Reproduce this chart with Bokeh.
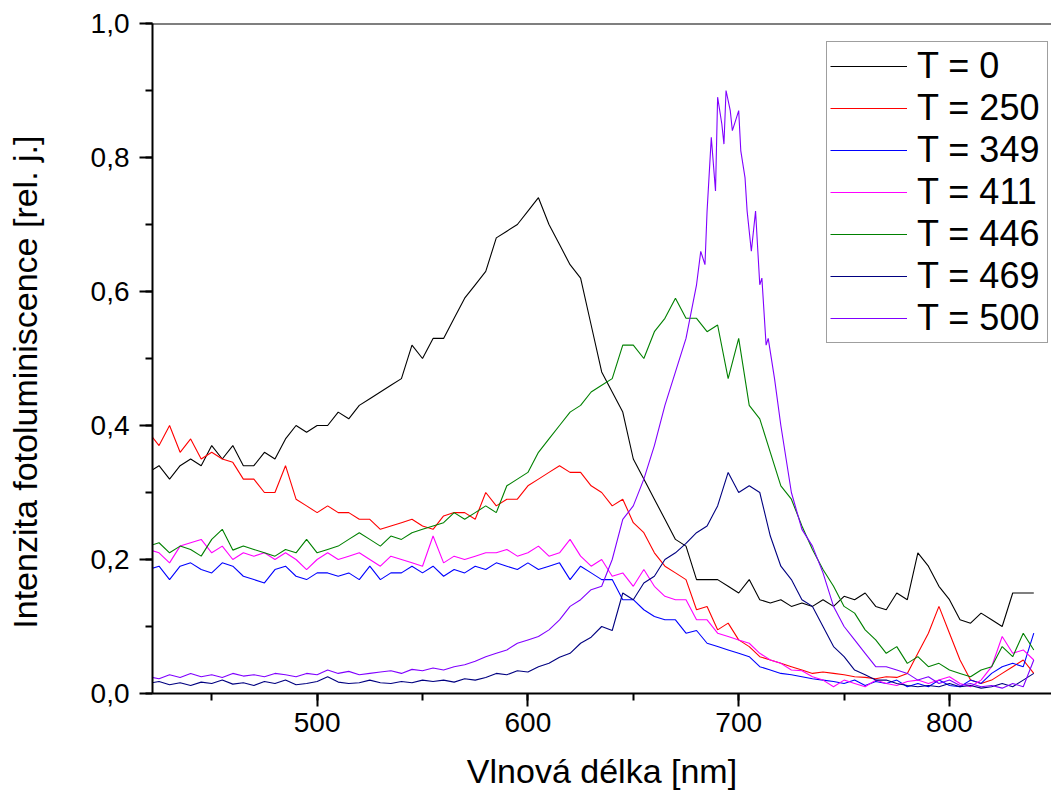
from bokeh.plotting import figure
from bokeh.models import (Range1d, SingleIntervalTicker, CustomJSTickFormatter, Span,
                          Legend, LegendItem)
from bokeh.embed import file_html
from bokeh.resources import INLINE

# ---------------- data ----------------
wl = list(range(420, 841, 5))

t0 = [0.33, 0.34, 0.32, 0.34, 0.35, 0.34, 0.37, 0.35, 0.37, 0.34,
      0.34, 0.36, 0.35, 0.38, 0.40, 0.39, 0.40, 0.40, 0.42, 0.41,
      0.43, 0.44, 0.45, 0.46, 0.47, 0.52, 0.50, 0.53, 0.53, 0.56,
      0.59, 0.61, 0.63, 0.68, 0.69, 0.70, 0.72, 0.74, 0.70, 0.67,
      0.64, 0.62, 0.55, 0.48, 0.45, 0.42, 0.35, 0.32, 0.29, 0.26,
      0.23, 0.22, 0.17, 0.17, 0.17, 0.16, 0.15, 0.17, 0.14, 0.135,
      0.14, 0.13, 0.135, 0.13, 0.14, 0.13, 0.145, 0.14, 0.15, 0.13,
      0.125, 0.15, 0.14, 0.21, 0.19, 0.16, 0.14, 0.11, 0.105, 0.12,
      0.11, 0.10, 0.15, 0.15, 0.15]

t250 = [0.39, 0.37, 0.40, 0.36, 0.38, 0.35, 0.36, 0.35, 0.345, 0.32,
        0.32, 0.30, 0.30, 0.34, 0.29, 0.28, 0.27, 0.28, 0.27, 0.27,
        0.26, 0.26, 0.245, 0.25, 0.255, 0.26, 0.25, 0.245, 0.265, 0.27,
        0.27, 0.26, 0.30, 0.28, 0.29, 0.29, 0.31, 0.32, 0.33, 0.34,
        0.33, 0.33, 0.31, 0.30, 0.28, 0.29, 0.255, 0.24, 0.21, 0.19,
        0.18, 0.17, 0.125, 0.13, 0.095, 0.105, 0.08, 0.07, 0.055, 0.05,
        0.045, 0.04, 0.035, 0.03, 0.032, 0.03, 0.028, 0.025, 0.024, 0.022,
        0.025, 0.024, 0.03, 0.06, 0.09, 0.13, 0.09, 0.05, 0.02, 0.015,
        0.02, 0.03, 0.04, 0.05, 0.03]

t349 = [0.185, 0.19, 0.17, 0.19, 0.195, 0.185, 0.18, 0.195, 0.19, 0.175,
        0.17, 0.165, 0.185, 0.19, 0.175, 0.17, 0.18, 0.18, 0.175, 0.18,
        0.17, 0.19, 0.17, 0.18, 0.18, 0.19, 0.18, 0.19, 0.175, 0.185,
        0.18, 0.19, 0.185, 0.195, 0.19, 0.185, 0.195, 0.185, 0.19, 0.195,
        0.17, 0.19, 0.18, 0.17, 0.17, 0.14, 0.14, 0.125, 0.115, 0.11,
        0.11, 0.09, 0.094, 0.075, 0.07, 0.065, 0.06, 0.055, 0.04, 0.035,
        0.03, 0.028, 0.025, 0.022, 0.02, 0.018, 0.015, 0.02, 0.012, 0.018,
        0.015, 0.02, 0.01, 0.015, 0.01, 0.02, 0.012, 0.01, 0.02, 0.015,
        0.03, 0.04, 0.045, 0.04, 0.09]

t411 = [0.215, 0.21, 0.195, 0.22, 0.225, 0.23, 0.21, 0.22, 0.20, 0.21,
        0.205, 0.21, 0.20, 0.21, 0.20, 0.185, 0.20, 0.21, 0.20, 0.205,
        0.21, 0.20, 0.19, 0.205, 0.20, 0.195, 0.19, 0.235, 0.195, 0.205,
        0.20, 0.205, 0.21, 0.21, 0.215, 0.205, 0.21, 0.22, 0.205, 0.21,
        0.23, 0.205, 0.19, 0.20, 0.175, 0.18, 0.16, 0.185, 0.16, 0.145,
        0.14, 0.14, 0.11, 0.11, 0.09, 0.085, 0.08, 0.075, 0.06, 0.05,
        0.045, 0.035, 0.034, 0.025, 0.02, 0.01, 0.02, 0.015, 0.01, 0.02,
        0.015, 0.012, 0.018, 0.02, 0.015, 0.02, 0.025, 0.015, 0.01, 0.02,
        0.04, 0.085, 0.06, 0.065, 0.05]

t446 = [0.22, 0.225, 0.21, 0.22, 0.215, 0.205, 0.23, 0.245, 0.214, 0.22,
        0.215, 0.21, 0.205, 0.215, 0.21, 0.23, 0.21, 0.215, 0.22, 0.23,
        0.24, 0.23, 0.22, 0.235, 0.23, 0.24, 0.245, 0.25, 0.255, 0.27,
        0.26, 0.27, 0.28, 0.27, 0.31, 0.32, 0.33, 0.36, 0.38, 0.40,
        0.42, 0.43, 0.45, 0.46, 0.47, 0.52, 0.52, 0.50, 0.54, 0.56,
        0.59, 0.56, 0.56, 0.54, 0.55, 0.47, 0.53, 0.43, 0.41, 0.36,
        0.31, 0.29, 0.25, 0.215, 0.185, 0.16, 0.13, 0.12, 0.095, 0.08,
        0.06, 0.07, 0.045, 0.055, 0.04, 0.045, 0.035, 0.03, 0.025, 0.035,
        0.04, 0.07, 0.055, 0.09, 0.065]

t469 = [0.015, 0.018, 0.013, 0.016, 0.012, 0.017, 0.015, 0.02, 0.014, 0.016,
        0.012, 0.018, 0.015, 0.02, 0.013, 0.015, 0.018, 0.025, 0.017, 0.015,
        0.016, 0.02, 0.016, 0.015, 0.018, 0.016, 0.02, 0.018, 0.02, 0.017,
        0.022, 0.02, 0.024, 0.03, 0.028, 0.034, 0.032, 0.04, 0.045, 0.054,
        0.06, 0.075, 0.084, 0.10, 0.094, 0.15, 0.14, 0.165, 0.175, 0.20,
        0.21, 0.224, 0.24, 0.25, 0.28, 0.33, 0.30, 0.31, 0.30, 0.235,
        0.19, 0.17, 0.14, 0.13, 0.10, 0.07, 0.055, 0.035, 0.028, 0.02,
        0.02, 0.015, 0.012, 0.01, 0.012, 0.01, 0.015, 0.01, 0.012, 0.008,
        0.01, 0.015, 0.01, 0.02, 0.03]

wl_500 = (list(range(420, 681, 5))
          + [682, 684, 685, 687, 689, 690, 692, 693, 694, 696, 697, 699,
             700, 701, 703, 704, 706, 708, 710, 711, 713, 714, 717, 720]
          + list(range(725, 841, 5)))

t500 = [0.025, 0.022, 0.028, 0.024, 0.03, 0.025, 0.028, 0.024, 0.03, 0.026,
        0.028, 0.025, 0.03, 0.028, 0.025, 0.03, 0.028, 0.035, 0.03, 0.033,
        0.028, 0.03, 0.032, 0.034, 0.03, 0.036, 0.034, 0.038, 0.035, 0.04,
        0.043, 0.048, 0.055, 0.06, 0.065, 0.075, 0.08, 0.085, 0.095, 0.11,
        0.13, 0.14, 0.155, 0.16, 0.20, 0.26, 0.28, 0.32, 0.37, 0.43,
        0.48, 0.53, 0.61,
        0.66, 0.64, 0.72, 0.83, 0.75, 0.89, 0.85, 0.82, 0.90, 0.87, 0.84, 0.86,
        0.87, 0.81, 0.77, 0.72, 0.66, 0.72, 0.61, 0.62, 0.52, 0.53, 0.47, 0.40,
        0.30, 0.245, 0.22, 0.18, 0.13, 0.10, 0.08, 0.06, 0.04, 0.04,
        0.035, 0.03, 0.02, 0.025, 0.015, 0.02, 0.012, 0.015, 0.01, 0.012,
        0.008, 0.015, 0.01, 0.05]

labels = ["T = 0", "T = 250", "T = 349", "T = 411", "T = 446", "T = 469", "T = 500"]
colors = ["#000000", "#ff0000", "#0000ff", "#ff00ff", "#008000", "#000080", "#8000ff"]

x_label = "Vlnová délka [nm]"
y_label = "Intenzita fotoluminiscence [rel. j.]"

# ---------------- figure ----------------
FONT = "Liberation Sans"
X0, X1 = 421.9, 848.4

p = figure(width=1051, height=800, output_backend="svg", toolbar_location=None,
           x_range=Range1d(X0, X1), y_range=Range1d(0.0, 1.0),
           min_border_left=152, min_border_right=0, min_border_top=23,
           min_border_bottom=107)
p.outline_line_color = None
p.xgrid.visible = False
p.ygrid.visible = False
p.background_fill_color = "white"
p.border_fill_color = "white"

series_x = [wl, wl, wl, wl, wl, wl, wl_500]
series_y = [t0, t250, t349, t411, t446, t469, t500]
items = []
for xs, ys, lab, col in zip(series_x, series_y, labels, colors):
    r = p.line(xs, ys, line_color=col, line_width=1.1)
    items.append(LegendItem(label=lab, renderers=[r]))

# top frame line
p.add_layout(Span(location=1.0, dimension="width", line_color="black", line_width=2))

for ax in (p.xaxis[0], p.yaxis[0]):
    ax.axis_line_width = 2
    ax.major_tick_line_width = 2
    ax.minor_tick_line_width = 2
    ax.major_tick_in = 0
    ax.major_tick_out = 13
    ax.minor_tick_in = 0
    ax.minor_tick_out = 7
    ax.major_label_text_font = FONT
    ax.major_label_text_font_size = "28px"
    ax.major_label_text_color = "black"
    ax.axis_label_text_font = FONT
    ax.axis_label_text_font_size = "34px"
    ax.axis_label_text_font_style = "normal"
    ax.axis_label_text_color = "black"

p.xaxis.ticker = SingleIntervalTicker(interval=100, num_minor_ticks=2)
p.yaxis.ticker = SingleIntervalTicker(interval=0.2, num_minor_ticks=2)
p.yaxis.formatter = CustomJSTickFormatter(code="return tick.toFixed(1).replace('.', ',');")
p.xaxis.axis_label = x_label
# trailing no-break spaces move the visible title a little below the frame centre,
# as in the reference
p.yaxis.axis_label = y_label + "\u00a0" * 5
p.xaxis.major_label_standoff = 6
p.yaxis.major_label_standoff = 10
p.xaxis.axis_label_standoff = 17
p.yaxis.axis_label_standoff = 44

legend = Legend(items=items, location=(674, 350))
legend.label_text_font = FONT
legend.label_text_font_size = "36px"
legend.label_text_color = "black"
legend.glyph_width = 77
legend.glyph_height = 40
legend.label_height = 40
legend.label_width = 127
legend.label_standoff = 10
legend.spacing = 0
legend.padding = 3
legend.margin = 0
legend.border_line_color = "#404040"
legend.border_line_width = 1.5
legend.background_fill_alpha = 1.0
p.add_layout(legend)

open("out.html", "w").write(file_html(p, INLINE))
